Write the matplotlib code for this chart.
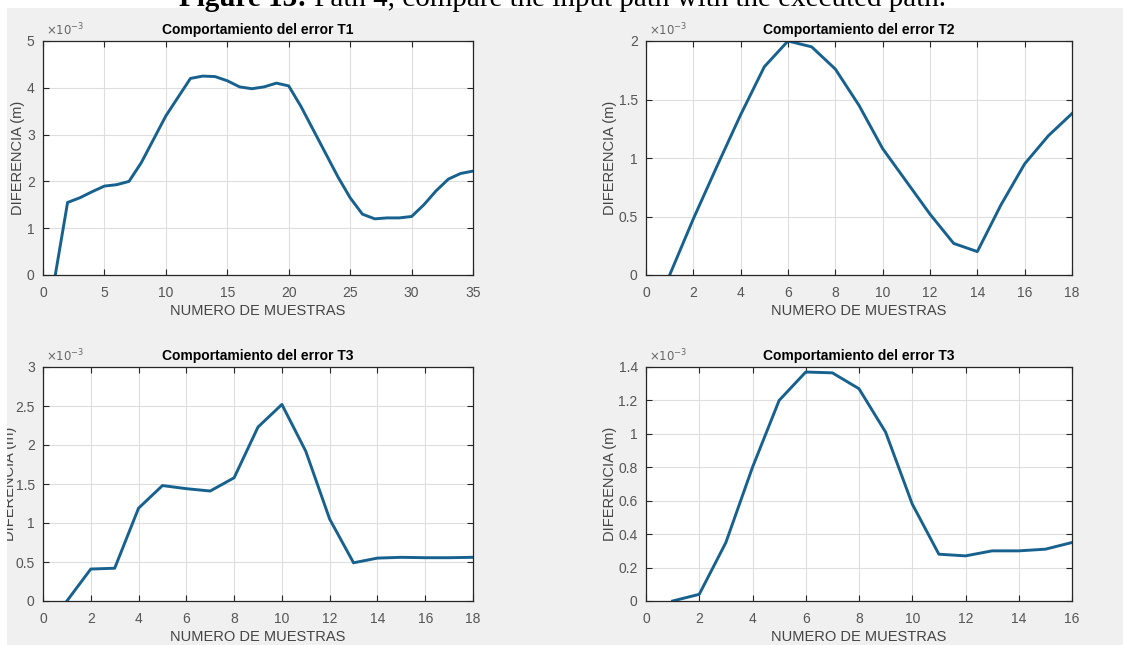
import matplotlib
matplotlib.use("Agg")
import matplotlib.pyplot as plt
from matplotlib.patches import Rectangle

plt.rcParams['font.family'] = ['Liberation Sans', 'DejaVu Sans']

# values, in units of 1e-3 m
t1_x = list(range(1, 36))
t1_y = [0, 1.55, 1.65, 1.78, 1.9, 1.93, 2.0, 2.4, 2.9, 3.4, 3.8, 4.2, 4.25, 4.24,
        4.15, 4.02, 3.98, 4.02, 4.1, 4.04, 3.6, 3.1, 2.6, 2.1, 1.65, 1.3, 1.2, 1.22,
        1.22, 1.25, 1.5, 1.8, 2.05, 2.17, 2.22]

t2_x = list(range(1, 19))
t2_y = [0, 0.48, 0.93, 1.37, 1.78, 2.0, 1.95, 1.76, 1.45, 1.08, 0.8, 0.52, 0.27,
        0.2, 0.6, 0.95, 1.19, 1.38]

t3a_x = list(range(1, 19))
t3a_y = [0, 0.41, 0.42, 1.19, 1.48, 1.44, 1.41, 1.58, 2.23, 2.52, 1.92, 1.05,
         0.49, 0.55, 0.56, 0.555, 0.555, 0.56]

t3b_x = list(range(1, 17))
t3b_y = [0, 0.04, 0.35, 0.8, 1.2, 1.37, 1.365, 1.27, 1.01, 0.58, 0.28, 0.27,
         0.30, 0.30, 0.31, 0.35]

titles = ["Comportamiento del error T1", "Comportamiento del error T2",
          "Comportamiento del error T3", "Comportamiento del error T3"]
xlims = [35, 18, 18, 16]
xticks = [list(range(0, 36, 5)), list(range(0, 19, 2)), list(range(0, 19, 2)), list(range(0, 17, 2))]
ylims = [5, 2, 3, 1.4]
yticks = [[0, 1, 2, 3, 4, 5], [0, 0.5, 1, 1.5, 2], [0, 0.5, 1, 1.5, 2, 2.5, 3],
          [0, 0.2, 0.4, 0.6, 0.8, 1, 1.2, 1.4]]
series = [(t1_x, t1_y), (t2_x, t2_y), (t3a_x, t3a_y), (t3b_x, t3b_y)]

W, H = 1123, 645
fig = plt.figure(figsize=(W / 100, H / 100), dpi=100)
# gray matlab window background
fig.patch.set_facecolor('#f0f0f0')

# axes boxes in pixels: left, right, top, bottom
boxes = [(43, 473, 41, 275), (646, 1072, 41, 275), (43, 473, 367, 601), (646, 1072, 367, 601)]
# distance from the axis to the right side of the rotated y label
label_off = [18, 29, 26, 29]

def fmt(v):
    return ('%g' % v)

for i, (l, r, t, b) in enumerate(boxes):
    ax = fig.add_axes([l / W, 1 - b / H, (r - l) / W, (b - t) / H])
    ax.set_facecolor('white')
    x, y = series[i]
    ax.plot(x, y, color='#17618f', lw=2.1, solid_joinstyle='round')
    ax.set_xlim(0, xlims[i])
    ax.set_ylim(0, ylims[i])
    ax.set_xticks(xticks[i])
    ax.set_xticklabels([fmt(v) for v in xticks[i]])
    ax.set_yticks(yticks[i])
    ax.set_yticklabels([fmt(v) for v in yticks[i]])
    ax.grid(True, color='#dedede', lw=0.8)
    ax.set_axisbelow(True)
    ax.tick_params(direction='in', length=4, width=0.8, top=True, right=True,
                   labelsize=10, colors='#262626', labelcolor='#555555')
    ax.tick_params(axis='x', pad=8)
    ax.tick_params(axis='y', pad=6)
    for s in ax.spines.values():
        s.set_color('#262626')
        s.set_linewidth(0.9)
    ax.set_title(titles[i], fontsize=10, fontweight='bold', pad=5)
    ax.set_xlabel("NUMERO DE MUESTRAS", fontsize=10.5, color='#444444', labelpad=3)
    ax.set_ylabel("DIFERENCIA (m)", fontsize=10.5, color='#444444')
    ax.yaxis.set_label_coords(-label_off[i] / (r - l), 0.5)
    ax.text(0.007, 1.012, r'$\times10^{-3}$', transform=ax.transAxes, fontsize=8.5,
            color='#666666', ha='left', va='bottom')

# white strips of the page around the screenshot
fig.patches.append(Rectangle((0, 0), 7 / W, 1, transform=fig.transFigure,
                             facecolor='white', edgecolor='none', zorder=10))
fig.patches.append(Rectangle((0, 1 - 8 / H), 1, 8 / H, transform=fig.transFigure,
                             facecolor='white', edgecolor='none', zorder=10))

# caption of the page, cut at the top
cap_y = 1 - 6 / H
cap_x = 179
bold = fig.text(cap_x / W, cap_y, "Figure 13:", fontsize=21, fontweight='bold',
                family='Liberation Serif', ha='left', va='baseline', zorder=11)
renderer = fig.canvas.get_renderer()
bw = bold.get_window_extent(renderer).width
fig.text((cap_x + bw) / W, cap_y, " Path 4, compare the input path with the executed path.",
         fontsize=21, family='Liberation Serif', ha='left', va='baseline', zorder=11)

fig.savefig("out.png", dpi=100)
